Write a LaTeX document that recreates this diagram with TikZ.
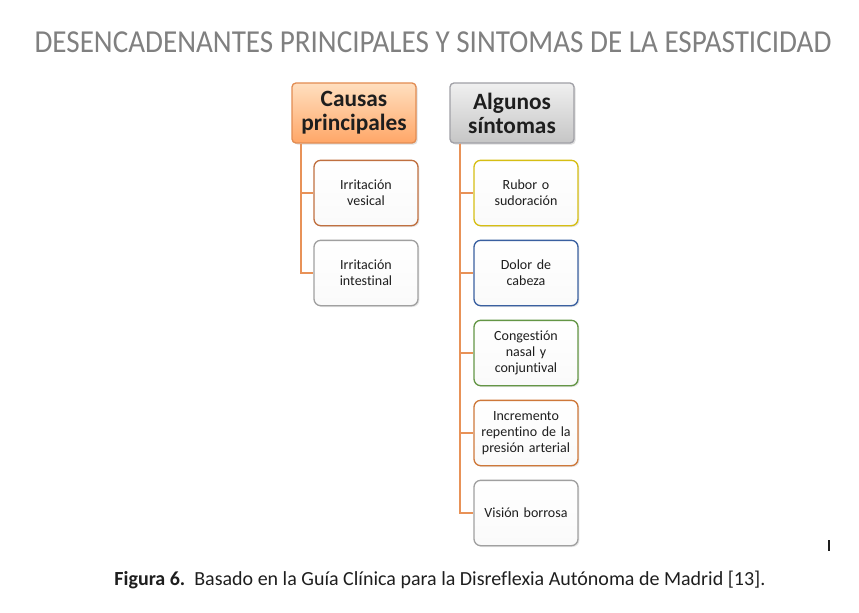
\documentclass[tikz,border=0pt]{standalone}
\usepackage{fontspec}
\setmainfont{Carlito}[Ligatures=NoCommon]
\newfontfamily\titlefont[FakeStretch=0.91,Ligatures=NoCommon]{Carlito}
\usepackage{tikz}
\usetikzlibrary{positioning,shadows}
\definecolor{ink}{RGB}{30,30,30}
\definecolor{titlegrey}{RGB}{128,128,128}
\definecolor{conn}{RGB}{232,146,88}
\definecolor{hdorange}{RGB}{226,140,82}
\definecolor{hdgrey}{RGB}{160,160,166}
\definecolor{brd1}{RGB}{192,112,64}
\definecolor{brd2}{RGB}{160,160,160}
\definecolor{brdy}{RGB}{214,190,20}
\definecolor{brdb}{RGB}{58,96,160}
\definecolor{brdg}{RGB}{100,150,70}
\definecolor{brdo}{RGB}{206,120,58}
\tikzset{
  head/.style={draw,line width=1pt,rounded corners=3pt,minimum width=93pt,
    minimum height=45pt,inner sep=2pt,align=center,text=ink,
    font=\fontsize{17.5}{18}\selectfont\bfseries,
    drop shadow={shadow xshift=1.2pt,shadow yshift=-1.2pt,opacity=0.25}},
  item/.style={draw,line width=1pt,rounded corners=5pt,
    top color=white,bottom color=gray!4,
    minimum width=78pt,minimum height=49pt,text width=74pt,inner sep=2pt,
    align=center,text=ink,font=\fontsize{10.5}{12}\selectfont,
    drop shadow={shadow xshift=1pt,shadow yshift=-1pt,opacity=0.2}},
  link/.style={conn,line width=1.6pt},
}
\begin{document}
\begin{tikzpicture}[x=0.75pt,y=-0.75pt]
  \useasboundingbox (0,0) rectangle (859,613);
  \node[text=titlegrey,font=\titlefont\fontsize{24}{25}\selectfont] (title) at (433,42)
    {DESENCADENANTES PRINCIPALES Y SINTOMAS DE LA ESPASTICIDAD};
  % headers
  \node[head,draw=hdorange,top color=orange!25!white,bottom color=orange!55!white!90!red] (causas) at (354,113) {Causas\\principales};
  \node[head,draw=hdgrey,top color=gray!12,bottom color=gray!45] (sintomas) at (512,113) {Algunos\\síntomas};
  % causes
  \node[item,draw=brd1,below right=12pt and 16.5pt of causas.south west] (c1) {Irritación\\vesical};
  \node[item,draw=brd2,below=10pt of c1] (c2) {Irritación\\intestinal};
  % symptoms
  \node[item,draw=brdy,below right=12pt and 18pt of sintomas.south west] (s1) {Rubor o\\sudoración};
  \node[item,draw=brdb,below=10pt of s1] (s2) {Dolor de\\cabeza};
  \node[item,draw=brdg,below=10pt of s2] (s3) {Congestión\\nasal y\\conjuntival};
  \node[item,draw=brdo,below=10pt of s3] (s4) {Incremento\\repentino de la\\presión arterial};
  \node[item,draw=brd2,below=10pt of s4] (s5) {Visión borrosa};
  % connectors
  \foreach \c in {c1,c2}
    \draw[link] ([xshift=7.5pt]causas.south west) |- (\c.west);
  \foreach \s in {s1,s2,s3,s4,s5}
    \draw[link] ([xshift=8.25pt]sintomas.south west) |- (\s.west);
  % caption
  \node[text=ink,font=\fontsize{15}{17}\selectfont] (caption) at (440,580)
    {\textbf{Figura 6.}\ \ Basado en la Guía Clínica para la Disreflexia Autónoma de Madrid [13].};
  \coordinate (cursor) at (829,540);
  \draw[ink,line width=0.8pt] (cursor) -- ++(0,11);
\end{tikzpicture}
\end{document}
